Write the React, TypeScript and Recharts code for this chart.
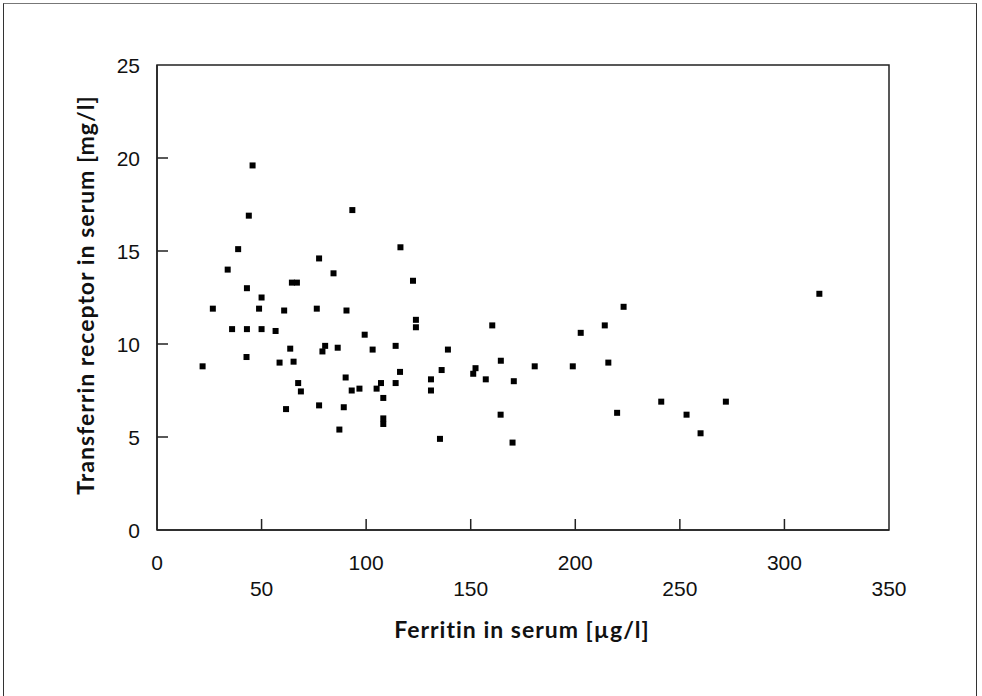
import React from "react";
import {
  ScatterChart,
  Scatter,
  XAxis,
  YAxis,
  ReferenceArea,
} from "recharts";

const ferritin: number[] = [
  45.7, 43.9, 93.4, 38.8, 116.4, 33.8, 77.5, 84.4, 122.4, 43.0,
  64.5, 66.9, 50.0, 26.7, 48.8, 60.8, 76.4, 90.6, 35.9, 43.0,
  50.0, 56.7, 123.8, 123.8, 160.3, 99.3, 63.7, 80.4, 79.1, 86.4,
  103.1, 114.1, 139.1, 42.8, 21.8, 58.6, 65.3, 164.4, 116.2, 136.1,
  152.3, 151.2, 90.2, 131.0, 157.2, 170.6, 67.5, 68.8, 93.1, 96.8,
  105.0, 107.1, 114.1, 108.2, 131.0, 77.5, 89.3, 61.7, 108.2, 108.2,
  164.3, 87.2, 135.3, 170.0, 316.7, 223.1, 214.1, 202.6, 180.6, 198.8,
  215.8, 241.1, 272.0, 220.0, 253.2, 259.9,
];

const receptor: number[] = [
  19.6, 16.9, 17.2, 15.1, 15.2, 14.0, 14.6, 13.8, 13.4, 13.0,
  13.3, 13.3, 12.5, 11.9, 11.9, 11.8, 11.9, 11.8, 10.8, 10.8,
  10.8, 10.7, 11.3, 10.9, 11.0, 10.5, 9.75, 9.9, 9.6, 9.8,
  9.7, 9.9, 9.7, 9.3, 8.8, 9.0, 9.05, 9.1, 8.5, 8.6,
  8.7, 8.4, 8.2, 8.1, 8.1, 8.0, 7.9, 7.45, 7.5, 7.6,
  7.6, 7.9, 7.9, 7.1, 7.5, 6.7, 6.6, 6.5, 6.0, 5.7,
  6.2, 5.4, 4.9, 4.7, 12.7, 12.0, 11.0, 10.6, 8.8, 8.8,
  9.0, 6.9, 6.9, 6.3, 6.2, 5.2,
];

const xTicks: number[] = [0, 50, 100, 150, 200, 250, 300, 350];
const yTicks: number[] = [0, 5, 10, 15, 20, 25];

const xTitle = "Ferritin in serum [µg/l]";
const yTitle = "Transferrin receptor in serum [mg/l]";

const points = ferritin.map((f, i) => ({ x: f, y: receptor[i] }));

const TICK_FONT = "'Liberation Sans', Arial, sans-serif";
const TITLE_FONT = "Lato, 'Open Sans', sans-serif";
const AXIS_COLOR = "#222";

const XTick = (props: any) => {
  const { x, y, payload, index } = props;
  const lower = index % 2 === 1;
  return (
    <g>
      {index > 0 && index < xTicks.length - 1 && (
        <line x1={x} y1={y} x2={x} y2={y - 11} stroke={AXIS_COLOR} strokeWidth={1.5} />
      )}
      <text
        x={x}
        y={y + (lower ? 66 : 40)}
        textAnchor="middle"
        fontFamily={TICK_FONT}
        fontSize={21}
        fill="#111"
      >
        {payload.value}
      </text>
    </g>
  );
};

const YTick = (props: any) => {
  const { x, y, payload } = props;
  return (
    <g>
      {payload.value !== 0 && payload.value !== 25 && (
        <line x1={x} y1={y} x2={x + 11} y2={y} stroke={AXIS_COLOR} strokeWidth={1.5} />
      )}
      <text
        x={x - 17}
        y={y + 7.5}
        textAnchor="end"
        fontFamily={TICK_FONT}
        fontSize={21}
        fill="#111"
      >
        {payload.value}
      </text>
    </g>
  );
};

const Square = (props: any) => {
  const { cx, cy } = props;
  return <rect x={cx - 3} y={cy - 3} width={6} height={6} fill="#000" />;
};

export default function App() {
  return (
    <div
      style={{
        position: "absolute",
        left: 0,
        top: 0,
        width: 982,
        height: 696,
        background: "#fff",
        overflow: "hidden",
      }}
    >
      <div
        style={{
          position: "absolute",
          left: 3,
          top: 3,
          width: 974,
          height: 700,
          borderTop: "1px solid #777",
          borderLeft: "1.5px solid #333",
          borderRight: "1.5px solid #333",
          boxSizing: "border-box",
        }}
      />
      <div style={{ position: "absolute", left: 0, top: 0 }}>
        <ScatterChart
          width={982}
          height={696}
          margin={{ top: 65, right: 93, bottom: 136, left: 97 }}
        >
          <XAxis
            type="number"
            dataKey="x"
            domain={[0, 350]}
            ticks={xTicks}
            interval={0}
            height={30}
            tickSize={0}
            tickMargin={0}
            tickLine={false}
            axisLine={{ stroke: AXIS_COLOR, strokeWidth: 1.5 }}
            tick={<XTick />}
            allowDataOverflow
          />
          <YAxis
            type="number"
            dataKey="y"
            domain={[0, 25]}
            ticks={yTicks}
            interval={0}
            width={60}
            tickSize={0}
            tickMargin={0}
            tickLine={false}
            axisLine={{ stroke: AXIS_COLOR, strokeWidth: 1.5 }}
            tick={<YTick />}
            allowDataOverflow
          />
          <ReferenceArea
            x1={0}
            x2={350}
            y1={0}
            y2={25}
            fill="none"
            stroke={AXIS_COLOR}
            strokeWidth={1.5}
            ifOverflow="visible"
          />
          <Scatter data={points} shape={<Square />} isAnimationActive={false} />
        </ScatterChart>
      </div>
      <div
        style={{
          position: "absolute",
          left: 522,
          top: 629,
          transform: "translate(-50%, -50%)",
          fontFamily: TITLE_FONT,
          fontWeight: 700,
          fontSize: 23,
          letterSpacing: 1,
          color: "#111",
          whiteSpace: "nowrap",
        }}
      >
        {xTitle}
      </div>
      <div
        style={{
          position: "absolute",
          left: 85,
          top: 295,
          transform: "translate(-50%, -50%) rotate(-90deg)",
          fontFamily: TITLE_FONT,
          fontWeight: 700,
          fontSize: 23,
          letterSpacing: 1,
          color: "#111",
          whiteSpace: "nowrap",
        }}
      >
        {yTitle}
      </div>
    </div>
  );
}
